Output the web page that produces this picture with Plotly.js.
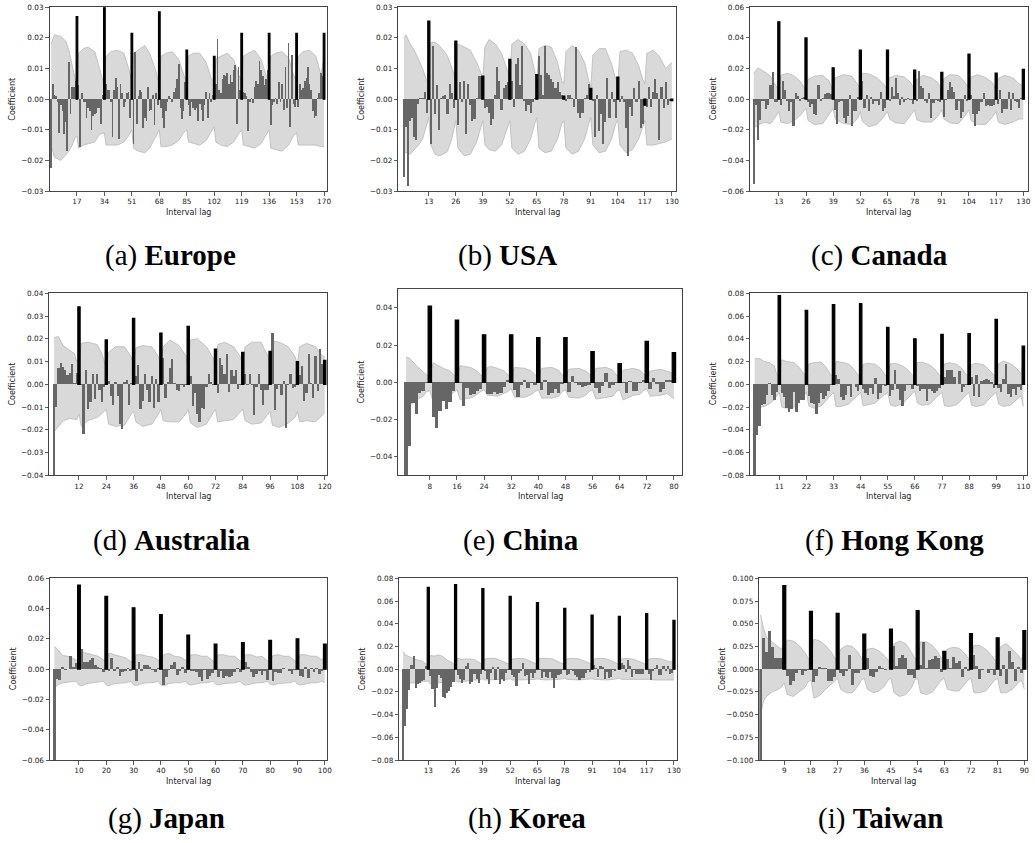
<!DOCTYPE html>
<html><head><meta charset="utf-8">
<script src="https://cdn.plot.ly/plotly-3.0.1.min.js"></script>
<style>html,body{margin:0;padding:0;background:#fff;}#chart{width:1035px;height:843px;}</style>
</head><body><div id="chart"></div>
<script>
// ---------- coefficients (lag 1..N) ----------
const euCoef = [
-0.0225,0.005,0.0015,0.001,-0.001,-0.011,-0.002,-0.004,-0.0115,-0.0075,-0.017,0.012,-0.005,0.004,0.004,0.006,0.027,
0.0045,-0.0155,0.002,-0.001,-0.001,-0.006,-0.003,-0.004,-0.010,-0.0055,-0.005,-0.0045,-0.003,-0.003,-0.008,0.0015,0.030,
0.005,0.003,0.003,-0.001,-0.0125,0.003,0.007,0.004,-0.013,0.005,0.002,-0.0025,-0.001,0.002,0.0025,-0.006,0.0215,
-0.0145,0.0155,-0.008,0.001,0.003,0.0025,-0.0095,-0.006,-0.007,0.004,-0.004,-0.0035,0.0015,-0.0085,0.002,-0.002,0.0285,
-0.003,-0.006,-0.0095,-0.004,-0.001,0.001,0.0005,-0.001,0.0025,0.0035,0.0065,0.0115,-0.003,-0.0065,-0.004,0.0055,0.016,
-0.002,-0.0055,-0.001,-0.003,-0.0035,-0.003,-0.007,-0.0015,-0.0035,-0.007,-0.002,0.0025,-0.006,0.002,-0.001,0.0013,0.014,
0.005,0.0195,0.003,0.002,0.0065,0.008,0.0075,0.0085,0.005,0.008,0.0055,0.0095,0.011,-0.0082,0.0105,0.003,0.0215,
0.0025,0.002,0.001,-0.0105,-0.0008,0.0005,-0.0013,0.004,0.006,0.005,0.0125,0.0095,0.0075,0.0045,0.0065,0.0095,0.0215,
-0.0083,-0.0018,-0.001,0.0005,-0.0015,0.0055,-0.001,0.005,-0.0035,0.0105,-0.003,0.0185,-0.009,0.0145,-0.0015,-0.0025,0.0215,
-0.0025,0.005,0.003,0.0035,0.006,0.007,0.0105,0.005,0.003,-0.004,-0.006,-0.0055,0.0005,0.002,0.0085,0.0075,0.0215];
const usCoef = [
-0.0255,-0.009,-0.0285,-0.007,-0.006,-0.0125,-0.0135,-0.0015,0.0005,0.0005,0.0025,-0.0045,0.0255,
-0.0145,0.0175,-0.005,0.0045,-0.010,0.0005,0.001,0.0015,-0.005,0.005,0.002,-0.003,0.019,
-0.0085,0.0055,-0.001,0.006,-0.0115,0.005,-0.002,-0.007,-0.0065,0.0005,0.0075,0.0075,0.0075,
-0.003,-0.0025,-0.0045,-0.0085,-0.0065,0.0015,0.0105,0.006,-0.0035,0.0035,0.0045,0.0055,0.013,
0.006,-0.0025,0.0115,0.0135,0.0045,0.0175,-0.0005,-0.004,-0.002,-0.0045,-0.001,0.0005,0.008,
0.014,0.008,0.0015,0.0175,0.0085,0.008,0.0065,0.0055,0.0035,0.0055,0.0025,0.0015,0.001,
-0.0005,0.0015,0.0015,0.0005,-0.0025,0.017,-0.0045,-0.006,-0.0045,0.0005,0.0015,0.005,0.0035,
-0.0005,-0.0125,0.0015,-0.0105,-0.005,-0.0145,-0.0075,0.007,-0.006,0.0025,-0.001,-0.006,0.0072,
-0.001,0.001,-0.001,-0.0095,-0.0185,-0.0025,-0.0055,0.0035,-0.001,0.006,-0.0095,-0.008,-0.002,
-0.0025,0.004,-0.0025,0.0025,0.0065,0.002,-0.0135,0.004,-0.003,0.0055,-0.002,-0.0005,-0.0005];
const caCoef = [
-0.0555,-0.004,-0.0265,-0.0135,-0.001,-0.001,-0.0065,-0.004,0.009,0.0175,-0.002,-0.002,0.0505,
-0.0035,0.012,0.006,-0.001,-0.0075,-0.002,-0.0175,0.004,0.002,-0.001,0.001,0.0015,0.040,
-0.002,-0.005,-0.003,-0.0095,-0.0105,0.009,-0.0015,0.0005,0.0035,0.004,0.004,0.0035,0.0205,
-0.007,-0.016,-0.002,-0.0015,-0.0125,-0.0155,-0.011,0.003,-0.0175,-0.0075,-0.0075,0.0015,0.032,
0.012,-0.0055,0.003,-0.0075,0.0015,-0.003,-0.001,-0.001,-0.004,0.005,-0.008,-0.0055,0.032,
-0.001,0.008,0.002,0.0135,0.004,-0.0035,0.0015,-0.002,-0.0005,0.0005,-0.0005,-0.003,0.019,
-0.001,0.0185,0.0085,0.007,-0.001,-0.0025,0.004,-0.0125,-0.0025,-0.0005,-0.001,-0.002,0.0175,
-0.0115,-0.0005,0.006,0.0115,0.008,0.005,-0.007,-0.0015,-0.0125,-0.0085,0.003,-0.001,0.0295,
0.003,-0.010,-0.0175,-0.0095,-0.0075,-0.002,0.004,-0.0045,-0.004,-0.0045,-0.0045,-0.004,0.017,
-0.003,0.006,-0.009,-0.0065,-0.0065,0.005,-0.007,0.004,-0.001,-0.002,-0.006,0.0005,0.0195];
const auCoef = [
-0.048,-0.010,0.007,0.0095,0.0075,0.0065,0.004,0.005,0.009,0.0005,0.005,0.034,
-0.0005,-0.022,0.0065,-0.011,-0.008,0.0045,-0.0065,0.0045,-0.0025,-0.008,-0.001,0.0195,
0.0015,-0.005,-0.009,0.001,-0.005,-0.0175,-0.0195,0.001,0.002,-0.009,0.0005,0.029,
0.0035,0.0085,-0.011,-0.0075,0.0045,-0.0025,-0.008,0.0035,-0.0105,0.0025,-0.008,0.0225,
0.0115,-0.006,0.001,0.007,0.011,0.0005,-0.0025,-0.003,-0.0005,-0.001,-0.0005,0.0255,
0.0035,-0.0095,-0.004,-0.013,-0.0165,-0.0105,-0.011,-0.001,0.0045,0.001,-0.0005,0.0155,
-0.004,0.0115,0.0085,0.0045,0.0135,-0.0035,0.0065,0.0035,0.0065,-0.002,-0.0005,0.014,
0.0045,-0.0005,0.0045,-0.0005,-0.0135,-0.001,0.0045,-0.0025,-0.009,-0.0025,-0.0025,0.0145,
0.0225,-0.0115,-0.002,-0.0005,-0.0045,0.0015,-0.019,-0.0005,0.0045,-0.0015,-0.001,0.010,
0.004,0.008,-0.0075,-0.004,0.0135,0.0005,-0.006,0.0125,-0.003,0.0155,0.009,0.0105];
const cnCoef = [
-0.06,-0.034,-0.011,-0.017,-0.006,-0.0045,-0.0005,0.041,
-0.0185,-0.0245,-0.0155,-0.010,-0.0145,-0.0105,-0.0045,0.0335,
-0.0005,-0.0125,-0.003,-0.007,-0.0065,-0.0045,-0.0035,0.0255,
-0.0065,-0.0065,-0.005,-0.0065,-0.0055,-0.0025,0.0015,0.0255,
-0.004,-0.008,-0.0015,0.0015,-0.003,-0.0005,-0.0015,0.024,
-0.004,0.0015,-0.007,-0.006,-0.0035,-0.0055,-0.001,0.024,
-0.005,0.0035,-0.0005,-0.0015,-0.0025,-0.002,-0.0015,0.0165,
-0.003,-0.0055,-0.002,0.005,-0.003,-0.0015,-0.0005,0.010,
-0.0005,-0.0055,0.0005,-0.0045,-0.0045,-0.0005,0.001,0.022,
-0.0035,0.0025,-0.001,-0.005,-0.0035,0.001,0.0015,0.016];
const hkCoef = [
-0.09,-0.045,-0.0365,-0.0185,-0.0175,-0.0095,0.0015,-0.0095,-0.0135,-0.0065,0.078,
-0.0075,-0.0115,-0.0205,-0.024,-0.0215,-0.007,-0.0245,-0.0165,-0.014,-0.014,0.065,
-0.0105,-0.0165,-0.0175,-0.026,-0.0165,-0.0075,-0.013,-0.0105,-0.006,-0.0005,0.070,
0.0085,0.0045,-0.011,-0.0135,-0.0095,-0.0015,-0.0115,0.0005,-0.0025,-0.0055,0.071,
-0.004,-0.0075,-0.009,-0.0035,-0.0085,0.0055,-0.0125,-0.0075,-0.001,-0.0015,0.050,
-0.0105,-0.005,0.013,-0.004,-0.0135,-0.0195,-0.006,-0.001,-0.0005,-0.0045,0.040,
-0.0015,-0.0055,-0.0045,-0.004,-0.015,-0.004,-0.0055,-0.0075,-0.006,-0.003,0.044,
0.0065,0.0125,0.013,0.013,0.006,0.0005,0.0115,-0.0065,-0.0025,-0.001,0.0445,
0.006,-0.0105,0.0085,-0.0115,0.0025,0.004,0.005,0.0035,0.002,-0.003,0.057,
-0.003,-0.007,0.005,0.018,-0.0085,-0.011,-0.0045,-0.0095,-0.0025,-0.005,0.0335];
const jpCoef = [
-0.07,-0.0065,-0.007,0.0015,-0.0005,0.0003,0.009,0.0015,0.004,0.0555,
0.013,0.0045,0.0045,0.006,0.0075,0.0025,0.0015,0.0005,-0.002,0.048,
-0.0015,0.0075,-0.0015,0.0015,-0.0045,-0.002,-0.0015,0.0005,-0.0015,0.0405,
-0.0075,0.0045,-0.0015,0.003,0.003,0.0015,-0.0005,-0.002,0.0005,0.036,
-0.0105,-0.0055,-0.0005,0.0025,0.005,-0.004,-0.0015,0.0015,-0.0025,0.0225,
-0.0015,-0.001,-0.002,-0.0055,-0.0075,-0.0005,-0.0065,-0.0045,-0.0025,0.0165,
-0.005,-0.001,-0.006,-0.0045,-0.005,-0.0045,-0.002,0.001,-0.002,0.0175,
0.005,0.0015,-0.002,-0.005,-0.003,-0.001,-0.004,-0.0015,-0.007,0.019,
-0.0075,-0.002,-0.0025,-0.0025,0.0005,0.0003,-0.0015,-0.003,-0.0005,0.020,
-0.0045,-0.0055,0.0015,-0.006,0.0005,-0.002,0.001,-0.003,-0.0015,0.0165];
const krCoef = [
-0.09,-0.0505,-0.0355,-0.018,0.004,0.012,-0.0165,-0.0135,-0.0125,-0.0105,-0.0095,0.003,0.072,
-0.006,-0.0175,-0.0335,-0.017,-0.0055,-0.0075,-0.0245,-0.0255,-0.021,-0.0195,-0.016,-0.0115,0.0745,
-0.0055,-0.0085,-0.0125,-0.0095,0.0025,0.005,-0.0135,-0.0115,-0.0045,-0.009,-0.0125,-0.004,0.071,
-0.002,-0.0085,-0.0135,-0.003,0.0015,-0.0095,0.0015,-0.013,-0.0085,-0.0105,-0.0035,-0.0005,0.064,
-0.0055,-0.0065,-0.0145,-0.0035,-0.002,0.005,-0.006,-0.0055,-0.013,-0.003,-0.0075,-0.0035,0.0585,
-0.0005,-0.0075,-0.0025,-0.0065,-0.0075,-0.0025,-0.0075,-0.0165,-0.008,-0.0055,-0.0045,-0.001,0.0535,
-0.005,-0.0045,-0.001,-0.002,-0.0055,-0.0065,-0.0095,-0.008,-0.0075,-0.0035,-0.001,-0.0025,0.0475,
0.004,0.001,-0.007,0.003,0.002,-0.009,-0.0025,-0.008,-0.0065,-0.001,-0.0015,0.0005,0.0465,
0.005,0.004,-0.0025,0.008,0.0025,-0.007,-0.0005,-0.0045,-0.004,-0.0045,-0.004,0.0005,0.049,
-0.0045,-0.0095,-0.002,0.001,0.004,-0.005,-0.0055,0.0025,-0.002,0.003,-0.004,-0.003,0.043];
const twCoef = [
-0.12,0.034,0.019,0.0415,0.0245,0.0125,0.0125,0.0125,0.092,
-0.008,-0.0175,-0.013,-0.004,-0.0005,-0.0065,-0.002,-0.0005,0.0635,
-0.014,-0.0075,0.0025,0.0015,0.0015,-0.0125,-0.0125,-0.009,0.0615,
-0.0045,-0.0075,-0.002,0.016,-0.017,-0.004,-0.0045,-0.0005,0.0385,
0.0125,-0.008,-0.009,-0.003,0.004,0.0015,-0.001,0.0005,0.044,
0.025,0.0035,0.0125,0.0155,0.012,-0.006,-0.006,-0.0095,0.0645,
0.0045,0.0295,0.0015,0.0105,0.0115,0.0145,0.012,-0.0035,0.0195,
0.011,0.0015,0.0135,0.0065,0.0085,-0.009,0.002,-0.0025,0.039,
0.016,0.004,-0.011,-0.0005,0.0005,-0.0045,-0.001,-0.0065,0.0345,
-0.0075,0.005,-0.016,0.0205,0.0075,-0.013,0.002,-0.004,0.0425];

// ---------- seasonal periods and tick labels ----------
const periods = [17,13,13,12,8,11,10,13,9];
const euTicks = [17,34,51,68,85,102,119,136,153,170];
const usTicks = [13,26,39,52,65,78,91,104,117,130];
const caTicks = [13,26,39,52,65,78,91,104,117,130];
const auTicks = [12,24,36,48,60,72,84,96,108,120];
const cnTicks = [8,16,24,32,40,48,56,64,72,80];
const hkTicks = [11,22,33,44,55,66,77,88,99,110];
const jpTicks = [10,20,30,40,50,60,70,80,90,100];
const krTicks = [13,26,39,52,65,78,91,104,117,130];
const twTicks = [9,18,27,36,45,54,63,72,81,90];

// ---------- confidence bands (lag, upper, lower) ----------
const euBandLag = [1,3,7,10,12,14,16,17,18,21,24,28,31,33,34,35,38,42,46,49,51,52,55,59,62,66,68,69,72,76,80,83,85,86,89,93,97,100,102,103,106,110,114,117,119,120,123,127,131,134,136,137,140,144,148,151,153,154,157,161,165,168,170];
const euBandUp = [0.018,0.021,0.0205,0.019,0.016,0.011,0.006,0.004,0.015,0.0165,0.017,0.0155,0.010,0.006,0.004,0.014,0.0155,0.016,0.015,0.010,0.006,0.015,0.016,0.0175,0.015,0.009,0.004,0.014,0.015,0.0155,0.013,0.008,0.005,0.014,0.015,0.015,0.012,0.007,0.005,0.013,0.014,0.015,0.013,0.008,0.006,0.014,0.015,0.016,0.013,0.008,0.006,0.014,0.015,0.0155,0.0135,0.008,0.006,0.014,0.0155,0.016,0.014,0.008,0.0135];
const euBandLo = [-0.015,-0.019,-0.020,-0.018,-0.017,-0.015,-0.0125,-0.012,-0.016,-0.015,-0.0145,-0.014,-0.0115,-0.011,-0.011,-0.015,-0.015,-0.015,-0.014,-0.012,-0.010,-0.016,-0.017,-0.0175,-0.016,-0.012,-0.010,-0.0155,-0.0155,-0.015,-0.0135,-0.011,-0.010,-0.014,-0.0145,-0.015,-0.0135,-0.011,-0.009,-0.014,-0.015,-0.0155,-0.014,-0.0115,-0.010,-0.015,-0.0155,-0.016,-0.0145,-0.012,-0.010,-0.016,-0.0165,-0.017,-0.015,-0.012,-0.011,-0.015,-0.015,-0.015,-0.015,-0.0155,-0.0155];

const usBandLag = [1,2,4,6,8,10,12,13,14,16,18,20,22,24,26,27,30,33,36,38,39,40,42,45,48,51,52,53,56,59,62,64,65,66,69,72,75,77,78,79,82,85,88,90,91,92,95,98,101,103,104,105,108,111,114,116,117,118,121,124,127,130];
const usBandUp = [0.020,0.021,0.018,0.016,0.013,0.010,0.006,0.005,0.0185,0.0185,0.0175,0.016,0.014,0.0105,0.006,0.018,0.017,0.016,0.012,0.009,0.007,0.017,0.0195,0.018,0.015,0.009,0.007,0.018,0.0195,0.018,0.015,0.009,0.005,0.0165,0.0175,0.017,0.012,0.006,0.005,0.0155,0.0175,0.016,0.012,0.006,0.004,0.0145,0.0165,0.0165,0.0115,0.0065,0.005,0.0155,0.016,0.015,0.011,0.0065,0.005,0.015,0.016,0.014,0.010,0.012];
const usBandLo = [-0.017,-0.0175,-0.018,-0.0165,-0.015,-0.013,-0.008,-0.006,-0.015,-0.018,-0.0185,-0.018,-0.017,-0.013,-0.007,-0.016,-0.0185,-0.018,-0.014,-0.009,-0.007,-0.015,-0.0165,-0.017,-0.015,-0.009,-0.007,-0.016,-0.018,-0.017,-0.013,-0.008,-0.006,-0.016,-0.0175,-0.017,-0.013,-0.008,-0.007,-0.016,-0.018,-0.017,-0.013,-0.008,-0.006,-0.015,-0.0175,-0.017,-0.013,-0.008,-0.007,-0.015,-0.0175,-0.0165,-0.013,-0.009,-0.007,-0.015,-0.015,-0.0145,-0.014,-0.013];

const caBandLag = [1,3,6,9,11,13,14,17,20,23,25,26,27,30,34,37,39,40,44,48,51,52,53,56,60,63,65,66,69,73,76,78,79,82,86,89,91,92,95,99,102,104,105,108,112,115,117,118,121,125,128,130];
const caBandUp = [0.0165,0.0205,0.018,0.015,0.010,0.006,0.0155,0.017,0.0155,0.012,0.008,0.006,0.013,0.015,0.0155,0.012,0.005,0.014,0.016,0.015,0.009,0.007,0.017,0.0165,0.014,0.010,0.006,0.014,0.0155,0.0145,0.011,0.006,0.013,0.0155,0.014,0.011,0.006,0.0135,0.016,0.0155,0.011,0.007,0.0145,0.016,0.014,0.011,0.006,0.0135,0.0155,0.014,0.010,0.0085];
const caBandLo = [-0.0185,-0.017,-0.015,-0.016,-0.0125,-0.008,-0.015,-0.016,-0.0145,-0.011,-0.008,-0.006,-0.014,-0.0165,-0.016,-0.010,-0.006,-0.013,-0.016,-0.0165,-0.012,-0.008,-0.0145,-0.018,-0.0165,-0.012,-0.008,-0.013,-0.0155,-0.016,-0.011,-0.007,-0.0135,-0.015,-0.015,-0.0115,-0.007,-0.013,-0.0155,-0.016,-0.011,-0.007,-0.014,-0.0165,-0.0165,-0.012,-0.008,-0.015,-0.0165,-0.015,-0.013,-0.013];

const auBandLag = [1,3,5,8,10,11,12,13,16,20,22,24,25,28,32,35,36,37,40,44,47,48,49,52,56,59,60,61,64,68,71,72,73,76,80,83,84,85,88,92,95,96,97,100,104,107,108,109,112,116,119,120];
const auBandUp = [0.0205,0.021,0.017,0.015,0.0135,0.010,0.009,0.018,0.0185,0.0175,0.0135,0.0075,0.014,0.0165,0.0165,0.012,0.0085,0.016,0.017,0.0165,0.012,0.009,0.0165,0.0195,0.017,0.0125,0.008,0.0195,0.020,0.0165,0.0115,0.008,0.0175,0.0185,0.0165,0.012,0.008,0.0165,0.0185,0.0185,0.0125,0.0085,0.019,0.0185,0.0165,0.012,0.009,0.0165,0.018,0.0165,0.0125,0.012];
const auBandLo = [-0.021,-0.0185,-0.016,-0.015,-0.0155,-0.0155,-0.013,-0.0185,-0.016,-0.0145,-0.013,-0.011,-0.0175,-0.0185,-0.018,-0.013,-0.012,-0.0165,-0.0185,-0.0175,-0.013,-0.011,-0.016,-0.0165,-0.0165,-0.013,-0.011,-0.017,-0.019,-0.0175,-0.0125,-0.011,-0.0165,-0.016,-0.0155,-0.012,-0.011,-0.016,-0.0175,-0.017,-0.013,-0.012,-0.018,-0.019,-0.017,-0.0145,-0.012,-0.0165,-0.016,-0.0165,-0.0135,-0.0125];

const cnBandLag = [1,2,4,6,7,8,9,10,12,14,15,16,17,18,20,22,23,24,25,26,28,30,31,32,33,36,38,39,40,41,44,46,47,48,49,52,54,55,56,57,60,62,63,64,65,68,70,71,72,73,76,78,80];
const cnBandUp = [0.0135,0.013,0.009,0.006,0.004,0.0035,0.0105,0.0095,0.0075,0.006,0.004,0.003,0.009,0.0085,0.008,0.006,0.004,0.003,0.008,0.0085,0.0075,0.006,0.004,0.003,0.008,0.0075,0.006,0.004,0.003,0.0075,0.008,0.0065,0.004,0.003,0.007,0.0075,0.006,0.0045,0.003,0.0075,0.008,0.0065,0.004,0.003,0.0065,0.0075,0.0065,0.0045,0.003,0.006,0.007,0.006,0.0045];
const cnBandLo = [-0.014,-0.0125,-0.0095,-0.0075,-0.005,-0.0045,-0.0105,-0.010,-0.0085,-0.007,-0.0055,-0.004,-0.0095,-0.009,-0.0085,-0.0065,-0.005,-0.004,-0.007,-0.007,-0.0075,-0.006,-0.005,-0.0035,-0.008,-0.008,-0.0065,-0.005,-0.004,-0.0085,-0.0085,-0.0075,-0.005,-0.004,-0.008,-0.0085,-0.007,-0.005,-0.004,-0.009,-0.008,-0.0075,-0.005,-0.004,-0.0095,-0.007,-0.0065,-0.0045,-0.0035,-0.0075,-0.007,-0.006,-0.009];

const hkBandLag = [1,3,5,7,9,10,11,12,14,17,19,21,22,23,25,28,30,32,33,34,36,39,41,43,44,45,47,50,52,54,55,56,58,61,63,65,66,67,69,72,74,76,77,78,80,83,85,87,88,89,91,94,96,98,99,100,102,105,107,109,110];
const hkBandUp = [0.0225,0.0225,0.020,0.019,0.016,0.008,0.006,0.0215,0.020,0.019,0.015,0.009,0.006,0.018,0.019,0.0195,0.015,0.008,0.006,0.020,0.0195,0.018,0.014,0.008,0.006,0.0175,0.0185,0.0175,0.014,0.008,0.006,0.018,0.0185,0.016,0.013,0.008,0.006,0.019,0.0195,0.017,0.0135,0.008,0.006,0.018,0.019,0.0175,0.014,0.008,0.006,0.0175,0.0185,0.017,0.013,0.008,0.006,0.018,0.0205,0.018,0.0145,0.0095,0.019];
const hkBandLo = [-0.021,-0.020,-0.0195,-0.017,-0.0135,-0.010,-0.007,-0.020,-0.021,-0.020,-0.015,-0.010,-0.007,-0.019,-0.021,-0.019,-0.014,-0.010,-0.007,-0.0195,-0.0195,-0.0175,-0.013,-0.009,-0.007,-0.019,-0.018,-0.0165,-0.012,-0.009,-0.007,-0.018,-0.0195,-0.017,-0.012,-0.008,-0.006,-0.0165,-0.0185,-0.0175,-0.013,-0.009,-0.007,-0.019,-0.0195,-0.018,-0.013,-0.009,-0.007,-0.0185,-0.0195,-0.018,-0.013,-0.009,-0.007,-0.0175,-0.0195,-0.018,-0.014,-0.010,-0.0195];

const jpBandLag = [1,2,4,6,8,9,10,11,13,15,17,19,20,21,23,25,27,29,30,31,33,35,37,39,40,41,43,45,47,49,50,51,53,55,57,59,60,61,63,65,67,69,70,71,73,75,77,79,80,81,83,85,87,89,90,91,93,95,97,99,100];
const jpBandUp = [0.015,0.0135,0.009,0.0085,0.007,0.006,0.005,0.011,0.0105,0.0095,0.0085,0.006,0.005,0.0105,0.0095,0.0085,0.0075,0.005,0.0045,0.0095,0.0095,0.0085,0.008,0.006,0.0045,0.0095,0.0105,0.0085,0.008,0.006,0.0045,0.0095,0.0095,0.0085,0.0085,0.0055,0.0045,0.0095,0.0095,0.0085,0.0085,0.0055,0.0045,0.0095,0.0095,0.008,0.0085,0.0055,0.0045,0.009,0.0095,0.0085,0.0085,0.0055,0.0045,0.0095,0.0095,0.0085,0.0085,0.006,0.0085];
const jpBandLo = [-0.013,-0.0105,-0.009,-0.0085,-0.008,-0.008,-0.0105,-0.011,-0.0095,-0.009,-0.0085,-0.008,-0.0105,-0.011,-0.0095,-0.009,-0.009,-0.008,-0.0105,-0.011,-0.0095,-0.009,-0.009,-0.008,-0.0105,-0.011,-0.0095,-0.009,-0.009,-0.008,-0.010,-0.0105,-0.0095,-0.009,-0.009,-0.008,-0.010,-0.0105,-0.0095,-0.009,-0.009,-0.008,-0.010,-0.0105,-0.0095,-0.009,-0.009,-0.008,-0.010,-0.0105,-0.0095,-0.009,-0.009,-0.008,-0.010,-0.0105,-0.0095,-0.009,-0.009,-0.008,-0.009];

const krBandLag = [1,2,4,6,8,10,12,13,14,16,18,20,22,24,26,27,29,31,33,35,37,39,40,42,45,48,50,52,53,56,59,62,64,65,66,69,72,75,77,78,79,82,85,88,90,91,92,95,98,101,103,104,105,108,111,114,116,117,118,121,124,127,130];
const krBandUp = [0.0155,0.0125,0.011,0.009,0.008,0.007,0.0045,0.004,0.012,0.0115,0.0125,0.011,0.008,0.006,0.004,0.0095,0.0085,0.009,0.0085,0.0085,0.006,0.004,0.009,0.0095,0.0095,0.007,0.006,0.004,0.009,0.0095,0.009,0.007,0.005,0.004,0.0095,0.0095,0.009,0.0065,0.005,0.004,0.009,0.0095,0.009,0.007,0.005,0.004,0.009,0.0095,0.009,0.0065,0.005,0.004,0.009,0.0095,0.0085,0.0065,0.005,0.004,0.009,0.0095,0.009,0.007,0.006];
const krBandLo = [-0.013,-0.0125,-0.0125,-0.012,-0.0115,-0.011,-0.0105,-0.0105,-0.013,-0.0125,-0.0125,-0.012,-0.011,-0.0105,-0.0095,-0.0115,-0.011,-0.0105,-0.0095,-0.0095,-0.0095,-0.0085,-0.0095,-0.0095,-0.0095,-0.0095,-0.009,-0.0085,-0.0095,-0.0095,-0.0095,-0.009,-0.009,-0.0085,-0.009,-0.0095,-0.0095,-0.009,-0.0085,-0.008,-0.009,-0.0095,-0.0095,-0.009,-0.0085,-0.0085,-0.009,-0.0095,-0.0095,-0.009,-0.0085,-0.008,-0.009,-0.009,-0.009,-0.009,-0.009,-0.0085,-0.009,-0.0095,-0.0095,-0.009,-0.0095];

const twBandLag = [1,2,3,5,7,8,9,10,12,14,16,17,18,19,21,23,25,26,27,28,30,32,34,35,36,37,39,41,43,44,45,46,48,50,52,53,54,55,57,59,61,62,63,64,66,68,70,71,72,73,75,77,79,80,81,82,84,86,88,89,90];
const twBandUp = [0.06,0.045,0.035,0.03,0.025,0.022,0.027,0.032,0.031,0.026,0.018,0.012,0.010,0.033,0.031,0.026,0.018,0.012,0.010,0.022,0.026,0.025,0.018,0.012,0.010,0.022,0.023,0.020,0.014,0.010,0.008,0.028,0.031,0.028,0.018,0.012,0.010,0.030,0.030,0.026,0.018,0.012,0.010,0.022,0.024,0.023,0.017,0.012,0.010,0.026,0.026,0.022,0.015,0.010,0.008,0.025,0.028,0.022,0.015,0.010,0.022];
const twBandLo = [-0.05,-0.035,-0.03,-0.025,-0.022,-0.02,-0.015,-0.028,-0.030,-0.025,-0.020,-0.014,-0.012,-0.032,-0.029,-0.022,-0.016,-0.012,-0.010,-0.022,-0.026,-0.026,-0.018,-0.012,-0.010,-0.022,-0.026,-0.024,-0.018,-0.012,-0.010,-0.026,-0.030,-0.028,-0.020,-0.012,-0.010,-0.026,-0.028,-0.025,-0.016,-0.012,-0.010,-0.022,-0.024,-0.024,-0.016,-0.012,-0.010,-0.026,-0.026,-0.024,-0.016,-0.012,-0.010,-0.026,-0.026,-0.022,-0.015,-0.012,-0.022];

const captionTags = ['(a)','(b)','(c)','(d)','(e)','(f)','(g)','(h)','(i)'];
const captionNames = ['Europe','USA','Canada','Australia','China','Hong Kong','Japan','Korea','Taiwan'];

// ---------- layout config (pixels) ----------
const W = 1035, H = 843;
const panels = [
 {coef:euCoef, ticks:euTicks, bl:euBandLag, bu:euBandUp, bo:euBandLo, box:[49.5,327.3,7.3,191], xr:[0,172], yr:[-0.03,0.03], dt:0.01, fmt:'.2f', cap:[170,255]},
 {coef:usCoef, ticks:usTicks, bl:usBandLag, bu:usBandUp, bo:usBandLo, box:[398.3,676,7.3,191], xr:[-1.7,132], yr:[-0.03,0.03], dt:0.01, fmt:'.2f', cap:[507,255]},
 {coef:caCoef, ticks:caTicks, bl:caBandLag, bu:caBandUp, bo:caBandLo, box:[750,1027.5,7.3,191], xr:[-0.8,132], yr:[-0.06,0.06], dt:0.02, fmt:'.2f', cap:[879,255]},
 {coef:auCoef, ticks:auTicks, bl:auBandLag, bu:auBandUp, bo:auBandLo, box:[49.3,327,293.3,475.3], xr:[-1.05,121], yr:[-0.04,0.04], dt:0.01, fmt:'.2f', cap:[172,540]},
 {coef:cnCoef, ticks:cnTicks, bl:cnBandLag, bu:cnBandUp, bo:cnBandLo, box:[398.3,681.7,289.3,475.3], xr:[-1.3,82.3], yr:[-0.05,0.05], dt:0.02, fmt:'.2f', cap:[521,540]},
 {coef:hkCoef, ticks:hkTicks, bl:hkBandLag, bu:hkBandUp, bo:hkBandLo, box:[750,1027.3,293.3,475.3], xr:[-0.9,111.6], yr:[-0.08,0.08], dt:0.02, fmt:'.2f', cap:[894,540]},
 {coef:jpCoef, ticks:jpTicks, bl:jpBandLag, bu:jpBandUp, bo:jpBandLo, box:[50,327,578.3,760], xr:[-0.6,100.8], yr:[-0.06,0.06], dt:0.02, fmt:'.2f', cap:[166,818]},
 {coef:krCoef, ticks:krTicks, bl:krBandLag, bu:krBandUp, bo:krBandLo, box:[399.3,676.5,578.3,760], xr:[-0.8,131.2], yr:[-0.08,0.08], dt:0.02, fmt:'.2f', cap:[527,818]},
 {coef:twCoef, ticks:twTicks, bl:twBandLag, bu:twBandUp, bo:twBandLo, box:[759.3,1027,578.3,760], xr:[0.57,90.9], yr:[-0.1,0.1], dt:0.025, fmt:'.3f', cap:[880,818]}
];

const traces = [];
const layout = {
  width: W, height: H, margin:{l:0,r:0,t:0,b:0},
  paper_bgcolor:'#fff', plot_bgcolor:'rgba(0,0,0,0)',
  showlegend:false, bargap:0, barmode:'overlay',
  font:{family:'DejaVu Sans', color:'#222'},
  annotations:[]
};
const tickFont = {family:'DejaVu Sans', size:7.3, color:'#222'};

panels.forEach((p, i) => {
  const n = i + 1, s = n === 1 ? '' : String(n), ov = String(n + 9);
  const per = periods[i];
  const [l, r, t, b] = p.box;
  const lagsG = [], valsG = [], lagsB = [], valsB = [];
  p.coef.forEach((v, k) => {
    const lag = k + 1;
    if (lag % per === 0) { lagsB.push(lag); valsB.push(v); } else { lagsG.push(lag); valsG.push(v); }
  });
  // band
  traces.push({type:'scatter', mode:'lines', x:p.bl, y:p.bu, xaxis:'x'+s, yaxis:'y'+s,
    line:{color:'#bdbdbd', width:0.9}, hoverinfo:'skip'});
  traces.push({type:'scatter', mode:'lines', x:p.bl, y:p.bo, xaxis:'x'+s, yaxis:'y'+s,
    fill:'tonexty', fillcolor:'#d9d9d9', line:{color:'#bdbdbd', width:0.9}, hoverinfo:'skip'});
  // bars on an overlaid axis so that they sit above the band
  traces.push({type:'bar', x:lagsG, y:valsG, width:1, xaxis:'x'+s, yaxis:'y'+ov,
    marker:{color:'#666666', line:{width:0}}});
  traces.push({type:'bar', x:lagsB, y:valsB, width:1, xaxis:'x'+s, yaxis:'y'+ov,
    marker:{color:'#000000', line:{width:1.2, color:'#000000'}}});

  layout['xaxis'+s] = {domain:[l/W, r/W], range:p.xr, anchor:'y'+s,
    tickmode:'array', tickvals:p.ticks, ticktext:p.ticks.map(String),
    ticks:'outside', ticklen:3.5, tickwidth:0.8, tickcolor:'#333', tickfont:tickFont,
    showline:true, mirror:true, linecolor:'#444', linewidth:1, showgrid:false, zeroline:false};
  layout['yaxis'+s] = {domain:[1-b/H, 1-t/H], range:p.yr, anchor:'x'+s,
    tick0:0, dtick:p.dt, tickformat:p.fmt,
    ticks:'outside', ticklen:3.5, tickwidth:0.8, tickcolor:'#333', tickfont:tickFont,
    showline:true, mirror:true, linecolor:'#444', linewidth:1, showgrid:false, zeroline:false};
  layout['yaxis'+ov] = {overlaying:'y'+s, anchor:'x'+s, range:p.yr, visible:false,
    showgrid:false, zeroline:false};

  layout.annotations.push({xref:'paper', yref:'paper', x:(l-37)/W, y:1-((t+b)/2)/H,
    text:'Coefficient', textangle:-90, showarrow:false, xanchor:'center', yanchor:'middle',
    font:{family:'DejaVu Sans', size:8, color:'#222'}});
  layout.annotations.push({xref:'paper', yref:'paper', x:((l+r)/2)/W, y:1-(b+21)/H,
    text:'Interval lag', showarrow:false, xanchor:'center', yanchor:'middle',
    font:{family:'DejaVu Sans', size:8, color:'#222'}});
  layout.annotations.push({xref:'paper', yref:'paper', x:p.cap[0]/W, y:1-p.cap[1]/H,
    text:captionTags[i]+' <b>'+captionNames[i]+'</b>', showarrow:false, xanchor:'center', yanchor:'middle',
    font:{family:'Liberation Serif', size:29, color:'#000'}});
});

Plotly.newPlot('chart', traces, layout, {displayModeBar:false, staticPlot:true});
</script></body></html>
